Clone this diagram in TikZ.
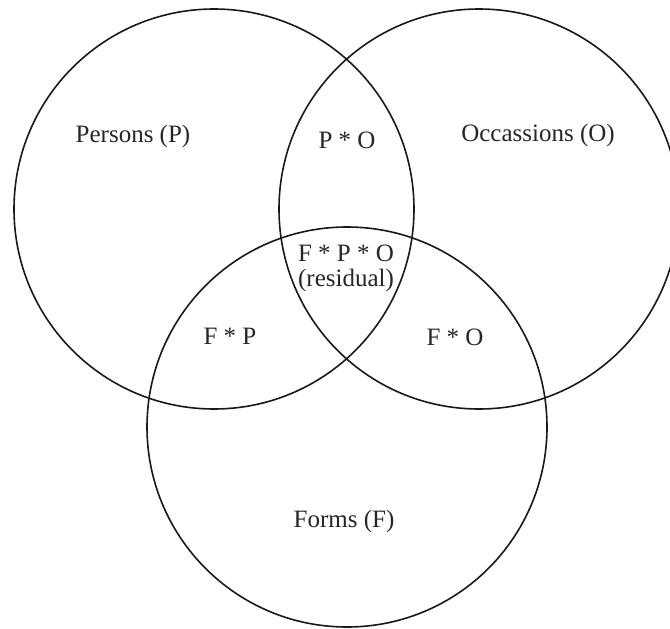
\documentclass[tikz,border=0pt]{standalone}
\usepackage{fontspec}
\setmainfont{Liberation Serif}
\begin{document}
\begin{tikzpicture}[x=1pt,y=-1pt,
  ring/.style={draw=black!90,line width=1.6pt},
  lbl/.style={font=\fontsize{25}{29}\selectfont,text=black!85,inner sep=0pt,align=center}]
\useasboundingbox (0,0) rectangle (670,629);
\node[ring,circle,minimum size=400pt,inner sep=0pt] (P) at (214,209) {};
\node[ring,circle,minimum size=400pt,inner sep=0pt] (O) at (479,209) {};
\node[ring,circle,minimum size=400pt,inner sep=0pt] (F) at (347,427) {};
\node[lbl] (tP) at (133,136) {Persons (P)};
\node[lbl] (tO) at (538,135) {Occassions (O)};
\node[lbl] (tPO) at (347,140) {P * O};
\node[lbl] (tFPO) at (346,253) {F * P * O};
\node[lbl] (tres) at (346,280) {(residual)};
\node[lbl] (tFP) at (230,336) {F * P};
\node[lbl] (tFO) at (455,337) {F * O};
\node[lbl] (tF) at (344,521) {Forms (F)};
\end{tikzpicture}
\end{document}
